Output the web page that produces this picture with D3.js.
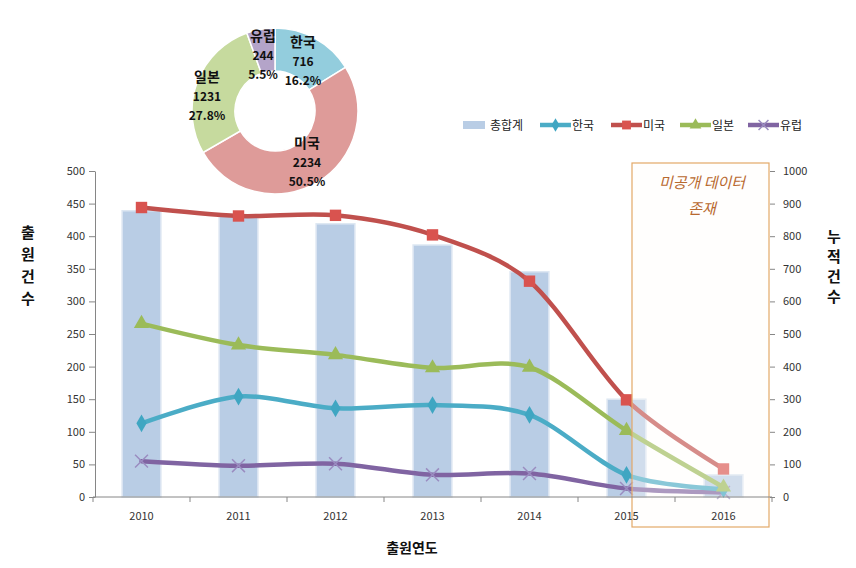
<!DOCTYPE html>
<html><head><meta charset="utf-8">
<script src="https://cdn.jsdelivr.net/npm/d3@7"></script>
<style>body{margin:0;background:#fff}svg{display:block}text{font-family:"Noto Sans CJK KR","Noto Sans",sans-serif}</style>
</head><body>
<svg id="c" width="856" height="568"></svg>
<script>
const years = ["2010","2011","2012","2013","2014","2015","2016"];
const totals = [878, 862, 838, 773, 691, 300, 68];
const korea = [113, 154, 136, 141, 126, 34, 12];
const usa = [444, 431, 432, 402, 331, 149, 43];
const japan = [266, 233, 218, 198, 199, 102, 15];
const europe = [55, 48, 51, 34, 36, 13, 7];
const leftTicks = [0,50,100,150,200,250,300,350,400,450,500];
const rightTicks = [0,100,200,300,400,500,600,700,800,900,1000];
const pieNames = ["한국","미국","일본","유럽"];
const pieValues = [716, 2234, 1231, 244];
const piePct = ["16.2%","50.5%","27.8%","5.5%"];
const pieColors = ["#93cddd","#de9b99","#c6da9e","#b4a4c9"];

const svg = d3.select("#c");
const x = d3.scaleBand().domain(years).range([93, 772]);
const yL = d3.scaleLinear().domain([0, 500]).range([497, 171]);
const yR = d3.scaleLinear().domain([0, 1000]).range([497, 171]);
const bw = x.bandwidth();
const cx = d => x(d) + bw / 2;

// bars
svg.append("g").selectAll("rect").data(years).join("rect")
  .attr("x", d => x(d) + bw * 0.3).attr("width", bw * 0.4)
  .attr("y", (d, i) => yR(totals[i])).attr("height", (d, i) => yR(0) - yR(totals[i]))
  .attr("fill", "#b9cde5").attr("stroke", "#dde7f2").attr("stroke-width", 1.5);

// lines
const line = d3.line().x((d, i) => cx(years[i])).y(d => yL(d)).curve(d3.curveCardinal.tension(0.1));
const series = [
  {name:"한국", vals:korea, color:"#4bacc6", mark:"#3fa6c2", sym:d3.symbolDiamond, size:90},
  {name:"미국", vals:usa, color:"#c0504d", mark:"#d9534f", sym:d3.symbolSquare, size:130},
  {name:"일본", vals:japan, color:"#9bbb59", mark:"#9bbb59", sym:d3.symbolTriangle, size:100},
  {name:"유럽", vals:europe, color:"#8064a2", mark:"#8a76b0", sym:d3.symbolX, size:110}
];
const drawOrder = [3, 0, 2, 1];
drawOrder.forEach(k => {
  const s = series[k];
  svg.append("path").datum(s.vals).attr("d", line).attr("fill", "none")
    .attr("stroke", s.color).attr("stroke-width", 4.5).attr("stroke-linecap", "round");
  svg.append("g").selectAll("path").data(s.vals).join("path")
    .attr("transform", (d, i) => `translate(${cx(years[i])},${yL(d)})`)
    .attr("d", d3.symbol(s.sym, s.size))
    .attr("fill", s.sym === d3.symbolX ? "none" : s.mark)
    .attr("stroke", s.sym === d3.symbolX ? "#9a8cc0" : "none").attr("stroke-width", 1.5);
});

// unpublished-data box
svg.append("rect").attr("x", 632).attr("y", 163).attr("width", 137).attr("height", 364)
  .attr("fill", "rgba(255,253,248,0.35)").attr("stroke", "#e3a868").attr("stroke-width", 1.2);
svg.append("text").attr("x", 702).attr("y", 188).attr("text-anchor", "middle")
  .attr("font-size", 15).attr("font-style", "italic").attr("fill", "#b8692f").text("미공개 데이터");
svg.append("text").attr("x", 702).attr("y", 214).attr("text-anchor", "middle")
  .attr("font-size", 15).attr("font-style", "italic").attr("fill", "#b8692f").text("존재");

// axes
const gx = svg.append("g").attr("transform", "translate(0,497)");
gx.append("line").attr("x1", 93).attr("x2", 772).attr("stroke", "#868686");
const bounds = years.map(d => x(d)).concat([x.range()[1]]);
gx.selectAll("line.t").data(bounds).join("line").attr("class","t")
  .attr("x1", d => d).attr("x2", d => d).attr("y1", 0).attr("y2", 5).attr("stroke", "#868686");
gx.selectAll("text").data(years).join("text")
  .attr("x", d => cx(d)).attr("y", 23).attr("text-anchor", "middle")
  .attr("font-size", 11).attr("fill", "#333").text(d => d);

const gl = svg.append("g").attr("transform", "translate(95,0)")
  .call(d3.axisLeft(yL).tickValues(leftTicks).tickSize(6).tickPadding(4).tickSizeOuter(0));
const gr = svg.append("g").attr("transform", "translate(770,0)")
  .call(d3.axisRight(yR).tickValues(rightTicks).tickFormat(d3.format("d")).tickSize(5).tickPadding(8).tickSizeOuter(0));
[gl, gr].forEach(g => {
  g.selectAll("path,line").attr("stroke", "#868686");
  g.selectAll("text").attr("font-size", 11).attr("fill", "#333").style("font-family", "'Noto Sans CJK KR'");
});
gr.select("path.domain").remove();

// axis titles
svg.append("text").attr("x", 412).attr("y", 553).attr("text-anchor", "middle")
  .attr("font-size", 14).attr("font-weight", "bold").attr("fill", "#111").text("출원연도");
["출","원","건","수"].forEach((c, i) => svg.append("text").attr("x", 28).attr("y", 238 + i * 22)
  .attr("text-anchor", "middle").attr("font-size", 15).attr("font-weight", "bold").attr("fill", "#111").text(c));
["누","적","건","수"].forEach((c, i) => svg.append("text").attr("x", 834).attr("y", 242 + i * 20)
  .attr("text-anchor", "middle").attr("font-size", 15).attr("font-weight", "bold").attr("fill", "#111").text(c));

// legend
const lg = svg.append("g");
lg.append("rect").attr("x", 463).attr("y", 121).attr("width", 22).attr("height", 8).attr("fill", "#b9cde5");
lg.append("text").attr("x", 490).attr("y", 130).attr("font-size", 12).attr("fill", "#222").text("총합계");
const legX = [540, 611, 680, 748];
series.forEach((s, k) => {
  const g = lg.append("g");
  g.append("line").attr("x1", legX[k]).attr("x2", legX[k] + 31).attr("y1", 125).attr("y2", 125)
    .attr("stroke", s.color).attr("stroke-width", 4.5);
  g.append("path").attr("transform", `translate(${legX[k] + 15.5},125)`)
    .attr("d", d3.symbol(s.sym, s.size * 0.6))
    .attr("fill", s.sym === d3.symbolX ? "none" : s.mark)
    .attr("stroke", s.sym === d3.symbolX ? "#9a8cc0" : "none").attr("stroke-width", 1.5);
  g.append("text").attr("x", legX[k] + 32).attr("y", 130).attr("font-size", 12).attr("fill", "#222").text(s.name);
});

// donut
const pc = [275, 111];
const arcs = d3.pie().sort(null)(pieValues);
const arc = d3.arc().innerRadius(40).outerRadius(83);
const pg = svg.append("g").attr("transform", `translate(${pc[0]},${pc[1]})`);
pg.selectAll("path").data(arcs).join("path").attr("d", arc)
  .attr("fill", (d, i) => pieColors[i]).attr("stroke", "#fff").attr("stroke-width", 1.5);
const labPos = [[303, 61], [307, 162], [207, 96], [263, 55]];
arcs.forEach((a, i) => {
  const t = svg.append("g").attr("text-anchor", "middle").attr("font-weight", "bold").attr("fill", "#111");
  t.append("text").attr("x", labPos[i][0]).attr("y", labPos[i][1] - 14).attr("font-size", 14).text(pieNames[i]);
  t.append("text").attr("x", labPos[i][0]).attr("y", labPos[i][1] + 5).attr("font-size", 12).text(pieValues[i]);
  t.append("text").attr("x", labPos[i][0]).attr("y", labPos[i][1] + 24).attr("font-size", 12).text(piePct[i]);
});
</script>
</body></html>
